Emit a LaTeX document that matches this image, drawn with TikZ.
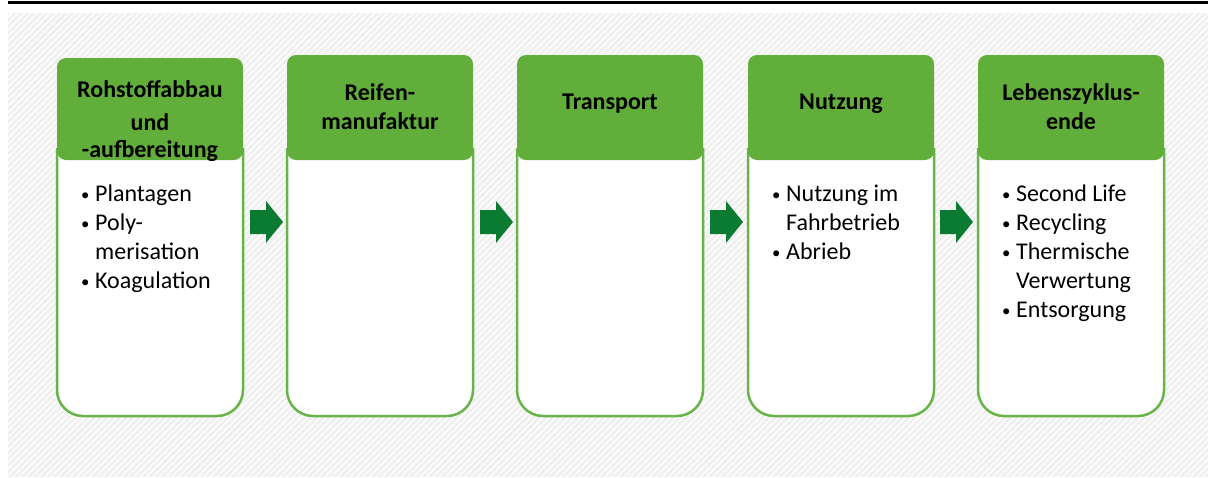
\documentclass[tikz,border=0pt]{standalone}
\usepackage{fontspec}
\setmainfont{Carlito}
\usetikzlibrary{patterns.meta}
\definecolor{hdr}{HTML}{62AE3A}
\definecolor{brd}{HTML}{68B44A}
\definecolor{arr}{HTML}{0A7B30}
\definecolor{bgc}{HTML}{F0F0F0}
\tikzset{
  hdrtext/.style={font=\fontsize{24}{29}\selectfont\bfseries, anchor=base, inner sep=0pt},
  bodytext/.style={font=\fontsize{24}{29}\selectfont, anchor=base west, inner sep=0pt},
  flowarrow/.style={fill=arr},
  hdrbox/.style={fill=hdr, rounded corners=9pt},
  bodybox/.style={draw=brd, line width=2.5pt, fill=white},
}
\newcommand{\hd}[1]{\begin{tabular}[t]{@{}c@{}}#1\end{tabular}}
\newcommand{\bl}[1]{\begin{tabular}[t]{@{}p{14pt}@{}l@{}}#1\end{tabular}}
\newcommand{\bu}{\raisebox{1pt}{\scalebox{0.7}{\textbullet}}}
\begin{document}
\begin{tikzpicture}[x=1pt,y=-1pt]
\useasboundingbox (0,0) rectangle (1208,477);
% background
\fill[bgc] (8,13) rectangle (1208,477);
\fill[pattern={Lines[angle=45,distance=4.5pt,line width=1.3pt]}, pattern color=white] (8,13) rectangle (1208,477);
\draw[line width=3pt] (8,2.5) -- (1208,2.5);
% boxes
\foreach \x/\t in {57/58, 287/55, 517/55, 748/55, 978/55}{
  \filldraw[bodybox] (\x,148) [rounded corners=26pt] -- (\x,416) -- (\x+186,416) -- (\x+186,148);
  \fill[hdrbox] (\x,\t) rectangle (\x+186,160);
}
% headers
\node[hdrtext] (h1) at (150,97) {\hd{Rohstoffabbau\\[4pt]und\\[-2pt]-aufbereitung}};
\node[hdrtext] (h2) at (380,100) {\hd{Reifen-\\manufaktur}};
\node[hdrtext] (h3) at (610,109) {\hd{Transport}};
\node[hdrtext] (h4) at (841,109) {\hd{Nutzung}};
\node[hdrtext] (h5) at (1071,100) {\hd{Lebenszyklus-\\ende}};
% body texts
\node[bodytext] (b1) at (81,201) {\bl{\bu & Plantagen\\ \bu & Poly-\\ & merisation\\ \bu & Koagulation}};
\node[bodytext] (b4) at (772,201) {\bl{\bu & Nutzung im\\ & Fahrbetrieb\\ \bu & Abrieb}};
\node[bodytext] (b5) at (1002,201) {\bl{\bu & Second Life\\ \bu & Recycling\\ \bu & Thermische\\ & Verwertung\\ \bu & Entsorgung}};
% arrows
\foreach \i/\x in {1/250, 2/480, 3/710, 4/940}{
  \coordinate (a\i) at (\x,222);
  \fill[flowarrow] (a\i) ++(0,-12) -- ++(16,0) -- ++(0,-9) -- ++(17,21) -- ++(-17,21) -- ++(0,-9) -- ++(-16,0) -- cycle;
}
\end{tikzpicture}
\end{document}
